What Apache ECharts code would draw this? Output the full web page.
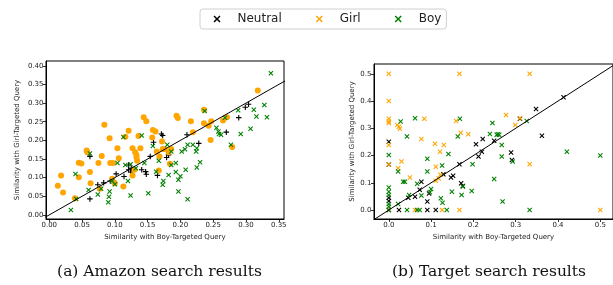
<!DOCTYPE html>
<html>
<head>
<meta charset="utf-8">
<script src="https://cdn.jsdelivr.net/npm/echarts@6/dist/echarts.min.js"></script>
<style>
  html, body { margin: 0; padding: 0; background: #fff; }
  #chart { width: 613px; height: 285px; }
</style>
</head>
<body>
<div id="chart"></div>
<script>
// --- data ---
var amazonNeutral = [
  [0.062,0.157],[0.062,0.043],[0.074,0.081],[0.083,0.086],[0.093,0.091],[0.098,0.091],[0.099,0.085],
  [0.102,0.110],[0.121,0.134],[0.121,0.121],[0.124,0.115],[0.125,0.125],[0.114,0.103],[0.141,0.121],
  [0.147,0.116],[0.148,0.109],[0.154,0.157],[0.159,0.195],[0.165,0.106],[0.171,0.217],[0.173,0.213],
  [0.179,0.154],[0.182,0.161],[0.210,0.215],[0.228,0.192],[0.270,0.222],[0.289,0.261],[0.299,0.289],
  [0.304,0.297]
];
var amazonGirl = [
  [0.013,0.078],[0.018,0.106],[0.021,0.060],[0.039,0.045],[0.045,0.140],[0.049,0.138],[0.045,0.101],
  [0.057,0.173],[0.058,0.168],[0.062,0.115],[0.063,0.085],[0.077,0.070],[0.075,0.139],[0.080,0.158],
  [0.084,0.242],[0.092,0.206],[0.093,0.139],[0.097,0.139],[0.096,0.097],[0.100,0.085],[0.104,0.179],
  [0.106,0.152],[0.113,0.076],[0.116,0.210],[0.121,0.226],[0.127,0.179],[0.127,0.106],[0.130,0.121],
  [0.131,0.168],[0.133,0.161],[0.133,0.154],[0.134,0.145],[0.136,0.212],[0.139,0.179],[0.144,0.262],
  [0.148,0.251],[0.157,0.208],[0.158,0.228],[0.162,0.224],[0.164,0.170],[0.167,0.119],[0.168,0.157],
  [0.172,0.197],[0.173,0.177],[0.176,0.177],[0.182,0.168],[0.184,0.137],[0.186,0.177],[0.194,0.266],
  [0.196,0.260],[0.216,0.251],[0.219,0.222],[0.236,0.282],[0.236,0.246],[0.243,0.239],[0.247,0.251],
  [0.246,0.201],[0.265,0.253],[0.271,0.262],[0.279,0.182],[0.318,0.334]
];
var amazonBoy = [
  [0.033,0.013],[0.040,0.110],[0.041,0.043],[0.060,0.067],[0.062,0.165],[0.074,0.055],[0.079,0.070],
  [0.090,0.034],[0.091,0.049],[0.092,0.063],[0.096,0.091],[0.100,0.082],[0.104,0.139],[0.113,0.209],
  [0.116,0.134],[0.120,0.091],[0.124,0.052],[0.124,0.136],[0.132,0.125],[0.141,0.213],[0.145,0.139],
  [0.151,0.058],[0.158,0.185],[0.163,0.116],[0.167,0.145],[0.173,0.081],[0.174,0.091],[0.180,0.188],
  [0.186,0.170],[0.186,0.134],[0.182,0.107],[0.193,0.139],[0.193,0.115],[0.197,0.094],[0.200,0.104],
  [0.197,0.063],[0.202,0.170],[0.207,0.176],[0.208,0.121],[0.211,0.188],[0.211,0.042],[0.219,0.188],
  [0.224,0.170],[0.225,0.127],[0.225,0.179],[0.230,0.141],[0.237,0.279],[0.255,0.234],[0.258,0.224],
  [0.259,0.217],[0.262,0.215],[0.268,0.261],[0.277,0.188],[0.288,0.281],[0.292,0.217],[0.307,0.231],
  [0.312,0.282],[0.316,0.264],[0.328,0.295],[0.332,0.262],[0.338,0.380]
];

var targetNeutral = [
  [0,0.251],[0,0.167],[0,0.045],[0,0.033],[0,0],[0.024,0],[0.046,0.045],[0.062,0.049],[0.073,0.074],
  [0.077,0.104],[0.091,0.031],[0.095,0.061],[0.091,0],[0.111,0],[0.129,0.131],[0.147,0.119],
  [0.152,0.126],[0.167,0.168],[0.171,0.098],[0.175,0.088],[0.206,0.241],[0.212,0.196],[0.220,0.214],
  [0.222,0.261],[0.249,0.254],[0.289,0.211],[0.291,0.184],[0.310,0.335],[0.348,0.371],[0.362,0.273],
  [0.413,0.414]
];
var targetGirl = [
  [0,0.5],[0,0.4],[0,0.335],[0,0.325],[0,0.319],[0,0.239],[0,0.167],[0,0],[0.020,0.3125],
  [0.024,0.306],[0.026,0.298],[0.022,0.153],[0.030,0.178],[0.050,0.119],[0.062,0],[0.077,0.261],
  [0.084,0.335],[0.109,0.243],[0.111,0.159],[0.111,0.107],[0.121,0.214],[0.118,0.116],[0.122,0.129],
  [0.130,0.239],[0.126,0],[0.159,0.327],[0.167,0.5],[0.167,0],[0.170,0.284],[0.188,0.278],
  [0.277,0.349],[0.299,0.3125],[0.310,0.337],[0.333,0.5],[0.333,0.168],[0.5,0]
];
var targetBoy = [
  [0,0.202],[0,0.083],[0,0.067],[0,0.055],[0,0.022],[0,0.012],[0,0],[0.022,0.141],[0.022,0.022],
  [0.028,0.325],[0.034,0.104],[0.038,0.104],[0.043,0.27],[0.043,0],[0.048,0.055],[0.062,0.337],
  [0.067,0.096],[0.067,0],[0.073,0],[0.077,0.053],[0.091,0.188],[0.091,0.141],[0.100,0.077],
  [0.097,0.065],[0.123,0.043],[0.127,0.027],[0.126,0.163],[0.137,0],[0.141,0.206],[0.149,0.067],
  [0.163,0.27],[0.168,0.335],[0.172,0.055],[0.175,0.086],[0.198,0.168],[0.196,0.070],[0.239,0.279],
  [0.245,0.319],[0.249,0.114],[0.255,0.276],[0.258,0.278],[0.261,0.276],[0.267,0.239],[0.267,0.196],
  [0.269,0.031],[0.293,0.178],[0.326,0.327],[0.333,0],[0.421,0.214],[0.500,0.200]
];

var diag = [[-1, -1], [1, 1]];
var amazonTicksX = [0, 0.05, 0.10, 0.15, 0.20, 0.25, 0.30, 0.35];
var amazonTicksY = [0, 0.05, 0.10, 0.15, 0.20, 0.25, 0.30, 0.35, 0.40];
var targetTicks = [0, 0.1, 0.2, 0.3, 0.4, 0.5];

var xIcon = 'path://M0,1.5L1.5,0L5,3.5L8.5,0L10,1.5L6.5,5L10,8.5L8.5,10L5,6.5L1.5,10L0,8.5L3.5,5Z';
var plusIcon = 'path://M4,0H6V4H10V6H6V10H4V6H0V4H4Z';
var black = '#000', orange = '#ffa500', green = '#008000';
var font = 'DejaVu Sans';

function makeAxis(idx, min, max, ticks, digits, name, gap) {
  return {
    type: 'value', gridIndex: idx, min: min, max: max,
    name: name, nameLocation: 'middle', nameGap: gap,
    nameTextStyle: { fontFamily: font, fontSize: 7, color: '#222' },
    axisLine: { show: true, onZero: false, lineStyle: { color: '#000', width: 1 } },
    axisTick: { show: true, length: 3, customValues: ticks, lineStyle: { color: '#000', width: 0.8 } },
    axisLabel: {
      customValues: ticks, fontFamily: font, fontSize: 7, color: '#222', margin: 2.5,
      formatter: function (v) { return v.toFixed(digits); }
    },
    splitLine: { show: false }
  };
}

function sc(name, data, xi, sym, size, color, z) {
  return {
    name: name, type: 'scatter', xAxisIndex: xi, yAxisIndex: xi,
    data: data, symbol: sym, symbolSize: size, z: z,
    itemStyle: { color: color, opacity: 1 },
    emphasis: { disabled: true }, silent: true
  };
}

var chart = echarts.init(document.getElementById('chart'), null, { renderer: 'canvas' });

var option = {
  animation: false,
  backgroundColor: '#fff',
  legend: {
    left: 200, top: 9,
    padding: [4, 5, 4, 13.5],
    borderColor: '#d0d0d0', borderWidth: 1, borderRadius: 3,
    itemWidth: 7, itemHeight: 7, itemGap: 34,
    textStyle: { fontFamily: font, fontSize: 12, color: '#222', padding: [0, 0, 0, 12] },
    selectedMode: false,
    data: [
      { name: 'Neutral', icon: xIcon, itemStyle: { color: black } },
      { name: 'Girl', icon: xIcon, itemStyle: { color: orange } },
      { name: 'Boy', icon: xIcon, itemStyle: { color: green } }
    ]
  },
  grid: [
    { left: 46, top: 61, width: 238, height: 158, show: true, borderColor: '#000', borderWidth: 1 },
    { left: 374, top: 64, width: 239, height: 155, show: true, borderColor: '#000', borderWidth: 1 }
  ],
  xAxis: [
    makeAxis(0, -0.005, 0.358, amazonTicksX, 2, 'Similarity with Boy-Targeted Query', 14),
    makeAxis(1, -0.035, 0.53, targetTicks, 1, 'Similarity with Boy-Targeted Query', 14)
  ],
  yAxis: [
    makeAxis(0, -0.011, 0.413, amazonTicksY, 2, 'Similarity with Girl-Targeted Query', 25),
    makeAxis(1, -0.033, 0.536, targetTicks, 1, 'Similarity with Girl-Targeted Query', 18)
  ],
  series: [
    sc('Neutral', amazonNeutral, 0, plusIcon, 5.5, black, 3),
    sc('Girl', amazonGirl, 0, 'circle', 6, orange, 4),
    sc('Boy', amazonBoy, 0, xIcon, 5, green, 5),
    sc('Neutral', targetNeutral, 1, xIcon, 5, black, 3),
    sc('Girl', targetGirl, 1, xIcon, 5, orange, 4),
    sc('Boy', targetBoy, 1, xIcon, 5, green, 5),
    { type: 'line', xAxisIndex: 0, yAxisIndex: 0, data: diag, symbol: 'none', z: 6, clip: true,
      lineStyle: { color: '#000', width: 1 }, silent: true },
    { type: 'line', xAxisIndex: 1, yAxisIndex: 1, data: diag, symbol: 'none', z: 6, clip: true,
      lineStyle: { color: '#000', width: 1 }, silent: true }
  ],
  graphic: [
    { type: 'text', x: 159.5, y: 264,
      style: { text: '(a) Amazon search results', font: '15.5px "DejaVu Serif"', fill: '#111', align: 'center' } },
    { type: 'text', x: 489, y: 264,
      style: { text: '(b) Target search results', font: '15.5px "DejaVu Serif"', fill: '#111', align: 'center' } }
  ]
};

chart.setOption(option);
</script>
</body>
</html>
